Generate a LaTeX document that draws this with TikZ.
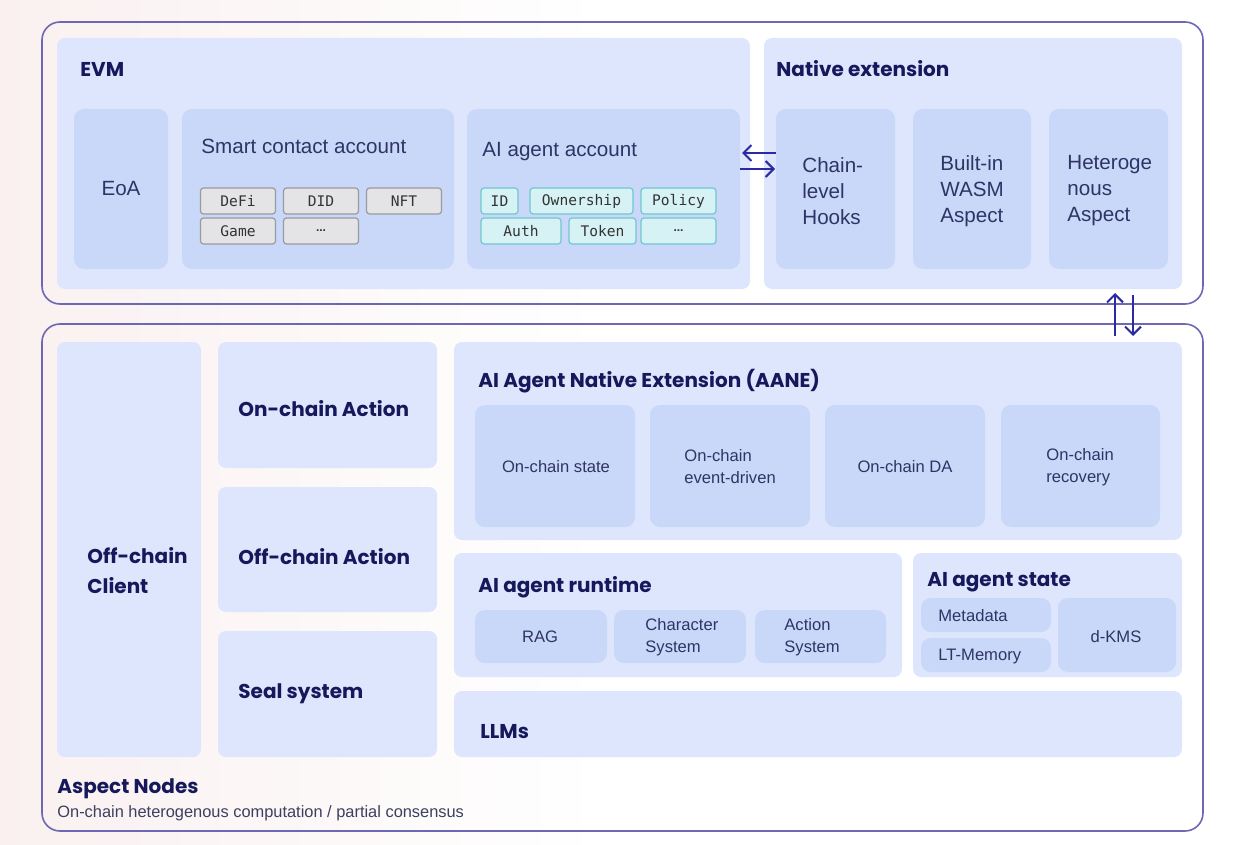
\documentclass[tikz,border=0pt]{standalone}
\usepackage{fontspec}
\setmainfont{Liberation Sans}
\newfontfamily\tfont{Poppins}
\newfontfamily\mfont{DejaVu Sans Mono}
\usetikzlibrary{fit,arrows.meta,calc}
\definecolor{outerc}{HTML}{6E68B4}
\definecolor{panelc}{HTML}{DDE6FC}
\definecolor{innerc}{HTML}{C9D7F8}
\definecolor{navy}{HTML}{15185A}
\definecolor{txt}{HTML}{2E3566}
\definecolor{subt}{HTML}{3C3F5F}
\definecolor{taggf}{HTML}{E4E4E6}
\definecolor{taggb}{HTML}{9A9AA0}
\definecolor{tagcf}{HTML}{D6F2F4}
\definecolor{tagcb}{HTML}{6FC8CF}
\definecolor{arrc}{HTML}{2B2AA0}
\definecolor{bgpink}{HTML}{FAF0F0}
\begin{document}
\begin{tikzpicture}[x=0.5pt,y=-0.5pt,
  outerbox/.style={draw=outerc, line width=0.8pt, rounded corners=9pt, inner sep=0},
  panel/.style={fill=panelc, rounded corners=4pt, inner sep=0},
  innerbox/.style={fill=innerc, rounded corners=5pt, inner sep=0},
  gtag/.style={fill=taggf, draw=taggb, line width=0.6pt, rounded corners=1.5pt, inner sep=0, minimum height=13pt, font=\mfont\fontsize{7.3}{8}\selectfont, text=black!80},
  ctag/.style={fill=tagcf, draw=tagcb, line width=0.6pt, rounded corners=1.5pt, inner sep=0, minimum height=13pt, font=\mfont\fontsize{7.3}{8}\selectfont, text=black!80},
  ttl/.style={font=\tfont\bfseries\fontsize{10}{12}\selectfont, text=navy, anchor=base west, inner sep=0},
  lbl/.style={font=\fontsize{10.3}{13}\selectfont, text=txt, inner sep=0, align=left},
  sm/.style={font=\fontsize{8.3}{11}\selectfont, text=txt, inner sep=0, align=left},
  arr/.style={draw=arrc, line width=1pt, -{Straight Barb[length=4pt,width=8pt]}}
]
\useasboundingbox (0,0) rectangle (1241,845);
\fill[left color=bgpink, right color=white] (0,0) rectangle (600,845);

% outer boxes
\node[outerbox, fit={(42,22)(1203,304)}] (top) {};
\node[outerbox, fit={(42,324)(1203,831)}] (bot) {};

% ---------- EVM ----------
\node[panel, fit={(57,38)(750,289)}] (evm) {};
\node[ttl] (evmt) at (80,77) {EVM};
\node[innerbox, fit={(74,109)(168,269)}] (eoa) {};
\node[lbl] (eoat) at (121,189) {EoA};
\node[innerbox, fit={(182,109)(454,269)}] (sca) {};
\node[lbl, anchor=base west] (scat) at (201,154) {Smart contact account};
\node[gtag, minimum width=37.5pt] (defi) at (238,201) {DeFi};
\node[gtag, minimum width=37.5pt] (did) at (321,201) {DID};
\node[gtag, minimum width=37.5pt] (nft) at (404,201) {NFT};
\node[gtag, minimum width=37.5pt] (game) at (238,231) {Game};
\node[gtag, minimum width=37.5pt] (dots1) at (321,231) {\fontspec{Liberation Sans}\bfseries\fontsize{6}{7}\selectfont ...};
\node[innerbox, fit={(467,109)(740,269)}] (aiacc) {};
\node[lbl, anchor=base west] (aiacct) at (482,157) {AI agent account};
\node[ctag, minimum width=18.5pt] (id) at (499.5,201) {ID};
\node[ctag, minimum width=51.5pt] (own) at (581.5,201) {Ownership};
\node[ctag, minimum width=37.5pt] (pol) at (678.5,201) {Policy};
\node[ctag, minimum width=40pt] (auth) at (521,231) {Auth};
\node[ctag, minimum width=33.5pt] (tok) at (602.5,231) {Token};
\node[ctag, minimum width=37.5pt] (dots2) at (678.5,231) {\fontspec{Liberation Sans}\bfseries\fontsize{6}{7}\selectfont ...};

% ---------- Native extension ----------
\node[panel, fit={(764,38)(1182,289)}] (nat) {};
\node[ttl] (natt) at (776,77) {Native extension};
\node[innerbox, fit={(776,109)(895,269)}] (hooks) {};
\node[lbl, anchor=west] (hookst) at (802,191) {Chain-\\level\\Hooks};
\node[innerbox, fit={(913,109)(1031,269)}] (wasm) {};
\node[lbl, anchor=west] (wasmt) at (940,191) {Built-in\\WASM\\Aspect};
\node[innerbox, fit={(1049,109)(1168,269)}] (het) {};
\node[lbl, anchor=west] (hett) at (1067,191) {Heteroge\\nous\\Aspect};

% arrows EVM <-> native
\coordinate (la) at (742,153);
\coordinate (ra) at (775,169);
\draw[arr] (hooks.west |- la) -- (la);
\draw[arr] (aiacc.east |- ra) -- (ra);

% arrows top <-> bottom
\coordinate (u1) at (1115,336);
\coordinate (u2) at (1115,293);
\coordinate (d1) at (1133,295);
\coordinate (d2) at (1133,336);
\draw[arr] (u1) -- (u2);
\draw[arr] (d1) -- (d2);

% ---------- Bottom ----------
\node[panel, fit={(57,342)(201,757)}] (occ) {};
\node[ttl, anchor=west, align=left, font=\tfont\bfseries\fontsize{10}{15}\selectfont] (occt) at (87,571) {Off-chain\\Client};
\node[panel, fit={(218,342)(437,468)}] (ona) {};
\node[ttl] (onat) at (238,416) {On-chain Action};
\node[panel, fit={(218,487)(437,612)}] (offa) {};
\node[ttl] (offat) at (238,564) {Off-chain Action};
\node[panel, fit={(218,631)(437,757)}] (seal) {};
\node[ttl] (sealt) at (238,698) {Seal system};

\node[panel, fit={(454,342)(1182,540)}] (aane) {};
\node[ttl] (aanet) at (478,387) {AI Agent Native Extension (AANE)};
\node[innerbox, fit={(475,405)(635,527)}] (ocs) {};
\node[sm] (ocst) at (556,467) {On-chain state};
\node[innerbox, fit={(650,405)(810,527)}] (oce) {};
\node[sm, anchor=west] (ocet) at (684,467) {On-chain\\event-driven};
\node[innerbox, fit={(825,405)(985,527)}] (ocd) {};
\node[sm] (ocdt) at (905,467) {On-chain DA};
\node[innerbox, fit={(1001,405)(1160,527)}] (ocr) {};
\node[sm, anchor=west] (ocrt) at (1046,467) {On-chain\\recovery};

\node[panel, fit={(454,553)(902,677)}] (rt) {};
\node[ttl] (rtt) at (478,592) {AI agent runtime};
\node[innerbox, fit={(475,610)(607,663)}] (rag) {};
\node[sm] (ragt) at (540,637) {RAG};
\node[innerbox, fit={(614,610)(746,663)}] (chs) {};
\node[sm, anchor=west] (chst) at (645,637) {Character\\System};
\node[innerbox, fit={(755,610)(886,663)}] (acs) {};
\node[sm, anchor=west] (acst) at (784,637) {Action\\System};

\node[panel, fit={(913,553)(1182,677)}] (st) {};
\node[ttl] (stt) at (927,586) {AI agent state};
\node[innerbox, fit={(921,598)(1051,632)}] (meta) {};
\node[sm, anchor=west] (metat) at (938,616) {Metadata};
\node[innerbox, fit={(921,638)(1051,672)}] (ltm) {};
\node[sm, anchor=west] (ltmt) at (938,657) {LT-Memory};
\node[innerbox, fit={(1058,598)(1176,672)}] (kms) {};
\node[sm] (kmst) at (1116,637) {d-KMS};

\node[panel, fit={(454,691)(1182,757)}] (llm) {};
\node[ttl] (llmt) at (480,738) {LLMs};

\node[ttl] (asp) at (57,793) {Aspect Nodes};
\node[inner sep=0, anchor=base west, font=\fontsize{8.2}{10}\selectfont, text=subt] (aspsub) at (57,817) {On-chain heterogenous computation / partial consensus};
\end{tikzpicture}
\end{document}
